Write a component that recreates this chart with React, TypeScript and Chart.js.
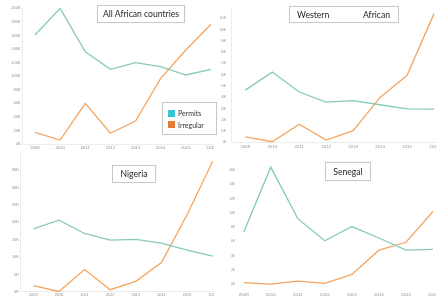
import React, { useEffect, useRef } from "react";
import { Chart, registerables } from "chart.js";
Chart.register(...registerables);

const years = ["2009", "2010", "2011", "2012", "2013", "2014", "2015", "2016"];
const seriesNames = ["Permits", "Irregular"];
const allPermits = [160600, 200000, 136000, 110000, 119800, 114000, 101700, 110000];
const allIrregular = [17200, 5900, 60000, 15800, 33900, 96800, 138500, 176400];
const westPermits = [46500, 62500, 44800, 35800, 37200, 33500, 29900, 29600];
const westIrregular = [4900, 700, 16200, 2100, 10500, 40000, 59600, 114400];
const nigeriaPermits = [18100, 20600, 16800, 14900, 15100, 14000, 12000, 10300];
const nigeriaIrregular = [1800, 100, 6400, 600, 3000, 8400, 22200, 37600];
const senegalPermits = [7300, 16400, 9200, 6100, 8100, 6500, 4800, 4900];
const senegalIrregular = [260, 50, 470, 170, 1400, 4800, 5900, 10200];

const PERMIT_LINE = "#86cbb7";
const IRREG_LINE = "#f4a560";
const PERMIT_KEY = "#35c5d5";
const IRREG_KEY = "#e27c38";
const TICK_COLOR = "#8f8f8f";
const TICK_FAMILY = "'Liberation Sans', Arial, sans-serif";
const TEXT_FONT = "Lato, 'Open Sans', 'Noto Sans', sans-serif";

type PanelCfg = {
  permits: number[];
  irregular: number[];
  clip: { x: number; y: number; w: number; h: number };
  x0: number;
  dx: number;
  offset: boolean;
  zeroY: number;
  topY: number;
  yMax: number;
  step: number;
  hideTop: boolean;
  labelRight: number;
  xLabelY: number;
  border: boolean;
  yFont: number;
  xFont: number;
};

const panels: PanelCfg[] = [
  {
    permits: allPermits, irregular: allIrregular,
    clip: { x: 0, y: 0, w: 214, h: 150 },
    x0: 35, dx: 25.14, offset: true,
    zeroY: 144, topY: 8.3, yMax: 200000, step: 20000, hideTop: false,
    labelRight: 20.7, xLabelY: 147.7, border: true, yFont: 4, xFont: 4.2,
  },
  {
    permits: westPermits, irregular: westIrregular,
    clip: { x: 218, y: 0, w: 218, h: 150 },
    x0: 245.3, dx: 26.96, offset: true,
    zeroY: 142.5, topY: 0, yMax: 120000, step: 10000, hideTop: true,
    labelRight: 226.3, xLabelY: 146.7, border: true, yFont: 3, xFont: 4.3,
  },
  {
    permits: nigeriaPermits, irregular: nigeriaIrregular,
    clip: { x: 0, y: 150, w: 214, h: 148 },
    x0: 33.3, dx: 25.63, offset: true,
    zeroY: 291.8, topY: 149.5, yMax: 40000, step: 5000, hideTop: true,
    labelRight: 19, xLabelY: 295.3, border: true, yFont: 4, xFont: 3.8,
  },
  {
    permits: senegalPermits, irregular: senegalIrregular,
    clip: { x: 218, y: 150, w: 218, h: 148 },
    x0: 243.7, dx: 27.04, offset: false,
    zeroY: 284.5, topY: 145.2, yMax: 18000, step: 2000, hideTop: true,
    labelRight: 235, xLabelY: 294.7, border: false, yFont: 3.3, xFont: 4.4,
  },
];

function ChartPanel({ p }: { p: PanelCfg }) {
  const ref = useRef<HTMLCanvasElement>(null);
  const areaLeft = p.offset ? p.x0 - p.dx / 2 : p.x0;
  const areaRight = p.offset ? p.x0 + 7.5 * p.dx : p.x0 + 7 * p.dx;
  const areaTop = p.topY;
  const areaBottom = p.zeroY;
  const gx = p.clip.x;
  const gy = Math.min(p.clip.y, Math.floor(areaTop));
  const cw = Math.ceil(areaRight + 14 - gx);
  const ch = p.clip.y + p.clip.h - gy;

  useEffect(() => {
    if (!ref.current) return;
    const chart = new Chart(ref.current, {
      type: "line",
      data: {
        labels: years,
        datasets: [
          {
            label: seriesNames[0], data: p.permits, borderColor: PERMIT_LINE,
            backgroundColor: PERMIT_LINE, borderWidth: 1.3, pointRadius: 0, tension: 0, clip: false as any,
          },
          {
            label: seriesNames[1], data: p.irregular, borderColor: IRREG_LINE,
            backgroundColor: IRREG_LINE, borderWidth: 1.3, pointRadius: 0, tension: 0, clip: false as any,
          },
        ],
      },
      options: {
        responsive: false,
        animation: false,
        devicePixelRatio: 1,
        layout: { padding: { top: areaTop - gy, left: 0, right: gx + cw - areaRight, bottom: 0 } },
        plugins: { legend: { display: false }, tooltip: { enabled: false }, title: { display: false } },
        scales: {
          x: {
            type: "category",
            offset: p.offset,
            grid: { display: false, drawTicks: false, tickLength: 0 },
            border: { display: p.border, color: "#ececec" },
            ticks: {
              autoSkip: false, maxRotation: 0, minRotation: 0,
              padding: Math.max(0, p.xLabelY - areaBottom - p.xFont * 0.6),
              font: { size: p.xFont, family: TICK_FAMILY }, color: TICK_COLOR,
            },
            afterFit: (s: any) => { s.height = ch - (areaBottom - gy); },
          },
          y: {
            min: 0, max: p.yMax,
            grid: { display: false, drawTicks: false, tickLength: 0 },
            border: { display: p.border, color: "#ececec" },
            ticks: {
              stepSize: p.step,
              padding: areaLeft - p.labelRight,
              font: { size: p.yFont, family: TICK_FAMILY }, color: TICK_COLOR,
              callback: (v: any) => Math.round(Number(v) / 1000) + "K",
            },
            afterBuildTicks: (s: any) => {
              if (p.hideTop) s.ticks = s.ticks.filter((t: any) => t.value < p.yMax);
            },
            afterFit: (s: any) => { s.width = areaLeft - gx; },
          },
        },
      } as any,
    });
    return () => chart.destroy();
  }, []);

  return (
    <div style={{ position: "absolute", left: p.clip.x, top: p.clip.y, width: p.clip.w, height: p.clip.h, overflow: "hidden" }}>
      <canvas
        ref={ref}
        width={cw}
        height={ch}
        style={{ position: "absolute", left: gx - p.clip.x, top: gy - p.clip.y, width: cw, height: ch }}
      />
    </div>
  );
}

const boxStyle = (l: number, t: number, w: number, h: number): React.CSSProperties => ({
  position: "absolute", left: l, top: t, width: w, height: h, boxSizing: "border-box",
  border: "1px solid #c9c9c9", background: "#fff", fontFamily: TEXT_FONT, color: "#1e1e1e",
  fontSize: 8.6, display: "flex", alignItems: "center", justifyContent: "center", whiteSpace: "nowrap",
  boxShadow: "0 0 1px rgba(0,0,0,0.08)",
});

export default function App() {
  return (
    <div style={{ position: "fixed", left: 0, top: 0, width: 436, height: 298, overflow: "hidden", background: "#fff" }}>
      {panels.map((p, i) => <ChartPanel key={i} p={p} />)}
      <div style={boxStyle(97, 5, 88, 18)}>All African countries</div>
      <div style={{ ...boxStyle(289, 6, 110, 17), justifyContent: "space-between", padding: "0 8px 0 7px" }}>
        <span>Western</span><span>African</span>
      </div>
      <div style={boxStyle(112, 165, 44, 18)}>Nigeria</div>
      <div style={boxStyle(325, 162, 46, 19)}>Senegal</div>
      <div style={{ ...boxStyle(162, 102, 55, 33), display: "block", fontSize: 7, color: "#333" }}>
        {[seriesNames[0], seriesNames[1]].map((n, i) => (
          <div key={n} style={{ position: "absolute", left: 5, top: 6 + i * 11.5, display: "flex", alignItems: "center", height: 8 }}>
            <span style={{ display: "inline-block", width: 7, height: 7, background: i === 0 ? PERMIT_KEY : IRREG_KEY, marginRight: 3 }} />
            <span>{n}</span>
          </div>
        ))}
      </div>
    </div>
  );
}
